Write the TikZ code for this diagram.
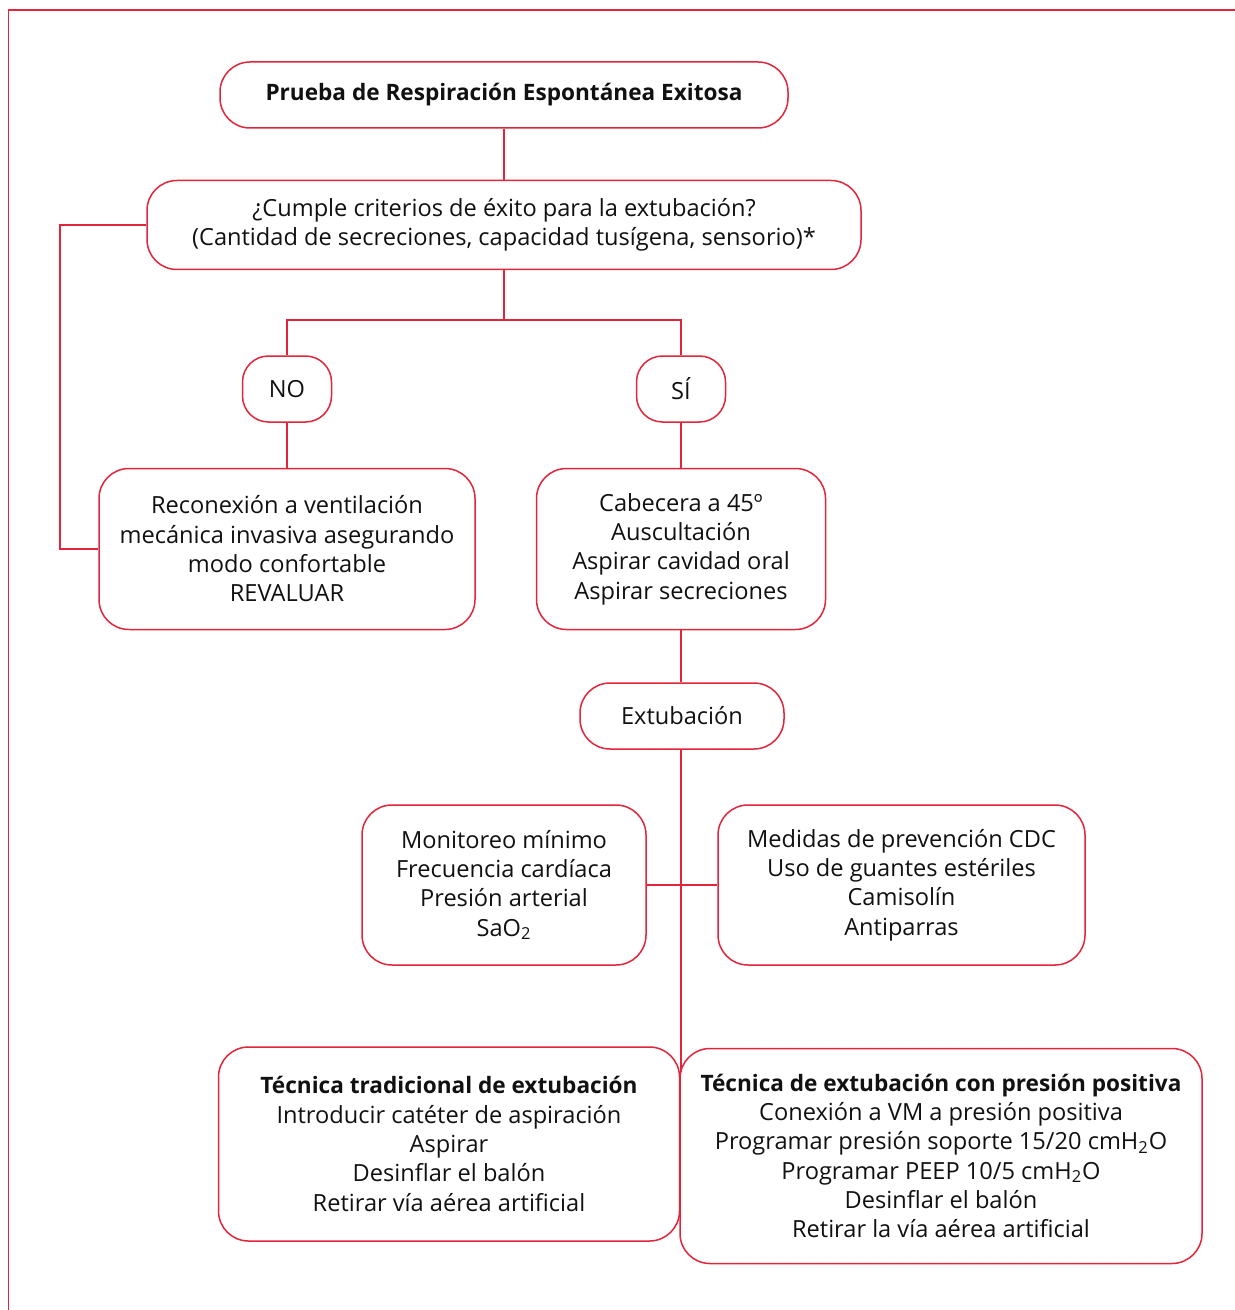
\documentclass[tikz,border=0pt]{standalone}
\usepackage{fontspec}
\setmainfont{Open Sans}
\usepackage{tikz}
\definecolor{flred}{HTML}{E1253A}
\definecolor{ink}{HTML}{111111}
\newcommand{\hd}[1]{{\fontsize{11.3}{14.65}\selectfont\bfseries #1}}
\tikzset{
  box/.style={draw=flred, line width=0.75pt, rounded corners=15pt, fill=white,
    align=center, inner sep=0pt, text=ink, font=\fontsize{11.8}{14.65}\selectfont},
  conn/.style={draw=flred, line width=1.4pt},
  frame/.style={draw=flred, line width=0.8pt},
}
\begin{document}
\begin{tikzpicture}[x=0.5pt,y=-0.5pt]
  \useasboundingbox (0,0) rectangle (1235,1310);
  \draw[frame] (8.5,1310) -- (8.5,10) -- (1235,10);

  \node[box,minimum width=284pt,minimum height=33pt] (top) at (504,95)
    {\hd{Prueba de Respiración Espontánea Exitosa}};
  \node[box,minimum width=357pt,minimum height=44.5pt] (crit) at (504,225)
    {¿Cumple criterios de éxito para la extubación?\\(Cantidad de secreciones, capacidad tusígena, sensorio)*};

  \node[box,minimum width=44.5pt,minimum height=33pt,rounded corners=13pt] (no) at (287,389) {NO};
  \node[box,minimum width=44.5pt,minimum height=33pt,rounded corners=13pt] (si) at (681,389) {SÍ};

  \node[box,minimum width=188pt,minimum height=80.5pt] (recon) at (287,549)
    {Reconexión a ventilación\\mecánica invasiva asegurando\\modo confortable\\REVALUAR};
  \node[box,minimum width=144.5pt,minimum height=80.5pt] (cab) at (681,549)
    {Cabecera a 45º\\Auscultación\\Aspirar cavidad oral\\Aspirar secreciones};

  \node[box,minimum width=102pt,minimum height=33pt] (ext) at (682,716) {Extubación};

  \node[box,minimum width=142pt,minimum height=80pt] (mon) at (504,885)
    {Monitoreo mínimo\\Frecuencia cardíaca\\Presión arterial\\SaO\textsubscript{2}};
  \node[box,minimum width=183.5pt,minimum height=80pt] (med) at (901.5,885)
    {Medidas de prevención CDC\\Uso de guantes estériles\\Camisolín\\Antiparras};

  \node[box,minimum width=230.5pt,minimum height=97pt] (trad) at (449,1144)
    {\hd{Técnica tradicional de extubación}\\Introducir catéter de aspiración\\Aspirar\\Desinflar el balón\\Retirar vía aérea artificial};
  \node[box,minimum width=261pt,minimum height=107.5pt] (pos) at (941,1156)
    {\hd{Técnica de extubación con presión positiva}\\Conexión a VM a presión positiva\\Programar presión soporte 15/20 cmH\textsubscript{2}O\\Programar PEEP 10/5 cmH\textsubscript{2}O\\Desinflar el balón\\Retirar la vía aérea artificial};

  \coordinate (split) at (504,320);
  \coordinate (back) at (60,225);
  \coordinate (join) at (681,1072);

  \draw[conn] (top) -- (crit);
  \draw[conn] (crit) -- (split);
  \draw[conn] (split) -| (no);
  \draw[conn] (split) -| (si);
  \draw[conn] (no) -- (recon);
  \draw[conn] (si) -- (cab);
  \draw[conn] (crit.west) -- (back) |- (recon.west);
  \draw[conn] (cab) -- (ext.north -| cab);
  \draw[conn] (ext.south -| join) -- (join);
  \draw[conn] (mon) -- (med);
\end{tikzpicture}
\end{document}
